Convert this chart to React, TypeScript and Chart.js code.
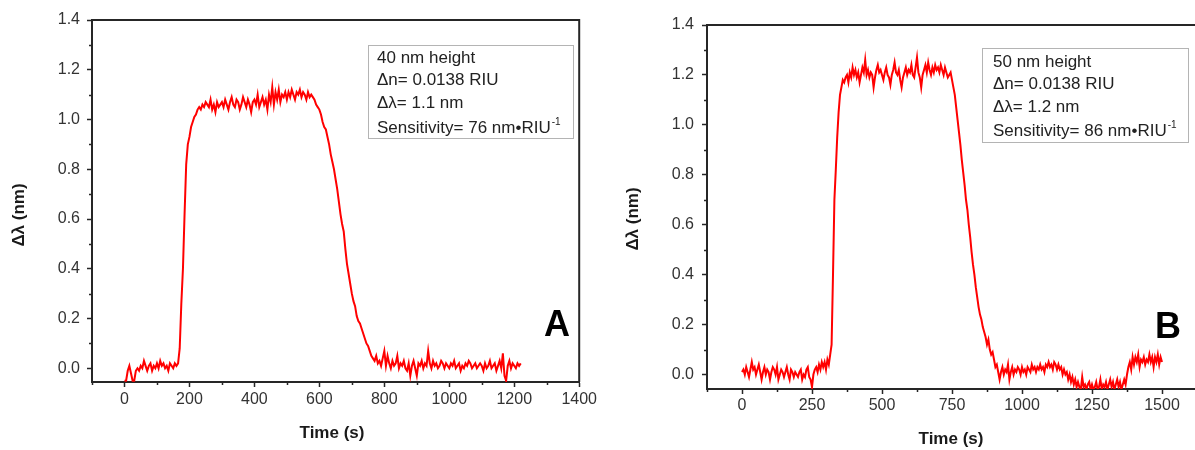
import React, { useEffect, useRef } from "react";
import { Chart, registerables } from "chart.js";

Chart.register(...registerables);

// Sensorgram sampling interval (seconds between readings)
const SAMPLE_STEP_S = 5;

// Wavelength shift (nm), 40 nm high structures, one reading every SAMPLE_STEP_S from t = 0
const SHIFT_40NM = [
  -0.05, -0.05, -0.01, 0.01, -0.02, -0.05, -0.05, -0.01, 0.0, -0.01, 0.01, 0.0, 0.03, 0.01, -0.01, 0.01, 0.02, -0.01, 0.01, 0.0,
  0.02, 0.0, 0.03, 0.01, 0.02, 0.0, 0.01, -0.01, 0.02, 0.01, 0.0, 0.02, 0.01, 0.02, 0.08, 0.26, 0.4, 0.62, 0.82, 0.9,
  0.93, 0.97, 0.99, 1.01, 1.02, 1.04, 1.05, 1.04, 1.06, 1.05, 1.07, 1.06, 1.05, 1.08, 1.04, 1.06, 1.03, 1.07, 1.05, 1.06,
  1.07, 1.05, 1.08, 1.06, 1.04, 1.07, 1.09, 1.06, 1.05, 1.08, 1.07, 1.04, 1.06, 1.09, 1.07, 1.05, 1.08, 1.06, 1.03, 1.07,
  1.08, 1.06, 1.1, 1.05, 1.07, 1.09, 1.06, 1.08, 1.04, 1.1, 1.07, 1.13, 1.06, 1.11, 1.08, 1.12, 1.07, 1.1, 1.09, 1.11,
  1.08, 1.11, 1.09, 1.12, 1.1, 1.08, 1.11, 1.1, 1.12, 1.09, 1.11, 1.1, 1.08, 1.11, 1.09, 1.1, 1.09, 1.08, 1.06, 1.05,
  1.04, 1.02, 0.99, 0.97, 0.96, 0.93, 0.9, 0.86, 0.83, 0.8, 0.76, 0.72, 0.67, 0.62, 0.58, 0.55, 0.48, 0.42, 0.38, 0.34,
  0.3, 0.27, 0.25, 0.21, 0.19, 0.18, 0.16, 0.14, 0.12, 0.1, 0.09, 0.07, 0.05, 0.04, 0.03, 0.05, 0.02, 0.03, 0.01, 0.04,
  0.07, 0.01, 0.05, 0.02, 0.0, 0.03, 0.01, 0.02, 0.05, 0.0, 0.02, 0.01, 0.03, 0.0, -0.01, 0.02, -0.03, 0.01, 0.03, 0.0,
  -0.03, 0.02, 0.01, 0.03, 0.0, 0.02, 0.01, 0.07, 0.02, 0.0, 0.03, 0.01, 0.02, 0.0, 0.01, 0.03, 0.02, 0.0, 0.02, 0.01,
  0.0, 0.02, 0.01, 0.03, 0.0, 0.01, 0.02, -0.01, 0.01, 0.0, 0.02, 0.01, 0.03, 0.02, 0.0, 0.01, 0.02, 0.0, 0.01, 0.02,
  0.01, -0.01, 0.02, 0.0, 0.01, 0.03, 0.0, 0.01, 0.02, -0.01, 0.01, 0.03, 0.0, 0.06, -0.03, -0.05, 0.01, 0.03, 0.0, 0.02,
  0.01, 0.0, 0.02, 0.01, 0.02,
];

// Wavelength shift (nm), 50 nm high structures, one reading every SAMPLE_STEP_S from t = 0
const SHIFT_50NM = [
  0.01, 0.02, 0.0, 0.03, 0.01, -0.01, 0.02, 0.05, 0.02, 0.03, 0.0, 0.02, 0.04, 0.01, -0.02, 0.01, 0.03, 0.0, 0.02, 0.01,
  -0.02, 0.01, 0.03, 0.02, 0.0, 0.03, -0.02, 0.0, 0.02, 0.01, -0.01, 0.01, 0.03, 0.0, -0.02, 0.02, 0.01, -0.01, 0.01, 0.0,
  -0.01, 0.01, 0.02, -0.02, 0.0, -0.01, 0.02, 0.03, -0.01, -0.02, -0.05, 0.0, 0.02, 0.03, 0.01, 0.04, 0.02, 0.05, 0.03, 0.05,
  0.02, 0.06, 0.04, 0.08, 0.12, 0.4, 0.7, 0.82, 0.95, 1.05, 1.12, 1.15, 1.18, 1.17, 1.19, 1.2, 1.17, 1.21, 1.19, 1.23,
  1.2, 1.22, 1.19, 1.21, 1.17, 1.2, 1.23, 1.21, 1.26, 1.2, 1.22, 1.19, 1.21, 1.2, 1.15, 1.19, 1.22, 1.24, 1.21, 1.22,
  1.2, 1.18, 1.21, 1.23, 1.2, 1.19, 1.16, 1.2, 1.22, 1.25, 1.21, 1.2, 1.22, 1.18, 1.15, 1.19, 1.21, 1.23, 1.2, 1.22,
  1.21, 1.24, 1.2, 1.19, 1.23, 1.27, 1.21, 1.19, 1.15, 1.2, 1.22, 1.24, 1.21, 1.25, 1.22, 1.2, 1.23, 1.21, 1.24, 1.22,
  1.23, 1.21, 1.24, 1.22, 1.2, 1.23, 1.21, 1.19, 1.2, 1.21, 1.18, 1.15, 1.12, 1.07, 1.02, 0.97, 0.92, 0.86, 0.81, 0.76,
  0.7, 0.66, 0.6, 0.55, 0.49, 0.44, 0.4, 0.35, 0.31, 0.27, 0.24, 0.22, 0.19, 0.17, 0.15, 0.12, 0.14, 0.1, 0.08, 0.09,
  0.06, 0.03, 0.04, 0.01, -0.02, 0.01, 0.03, 0.0, 0.02, 0.01, 0.04, -0.02, 0.01, 0.03, 0.0, 0.02, 0.01, 0.03, 0.02, 0.0,
  0.03, 0.01, 0.02, 0.0, 0.03, 0.02, 0.01, 0.04, 0.02, 0.03, 0.01, 0.03, 0.02, 0.04, 0.02, 0.03, 0.01, 0.04, 0.03, 0.05,
  0.03, 0.04, 0.02, 0.05, 0.04, 0.02, 0.04, 0.02, 0.03, 0.0, 0.02, 0.0, 0.01, -0.02, 0.0, -0.03, -0.01, -0.04, -0.02, -0.05,
  -0.03, -0.05, -0.06, -0.01, -0.05, -0.04, -0.06, -0.04, -0.03, -0.06, -0.04, -0.06, -0.05, -0.03, -0.06, -0.05, -0.02, -0.06, -0.04, -0.05,
  -0.03, -0.06, -0.04, -0.02, -0.05, -0.03, -0.06, -0.04, -0.02, -0.05, -0.03, -0.06, -0.04, -0.02, -0.04, 0.0, 0.03, 0.05, 0.02, 0.07,
  0.04, 0.07, 0.05, 0.08, 0.03, 0.06, 0.05, 0.07, 0.04, 0.06, 0.05, 0.08, 0.05, 0.07, 0.03, 0.07, 0.05, 0.08, 0.04, 0.07, 0.05,
];

const Y_TICKS = [0, 0.2, 0.4, 0.6, 0.8, 1.0, 1.2, 1.4];
const Y_MINOR = [0.1, 0.3, 0.5, 0.7, 0.9, 1.1, 1.3];
const X_TICKS_40 = [0, 200, 400, 600, 800, 1000, 1200, 1400];
const X_MINOR_40 = [-100, 100, 300, 500, 700, 900, 1100, 1300];
const X_TICKS_50 = [0, 250, 500, 750, 1000, 1250, 1500];
const X_MINOR_50 = [-125, 125, 375, 625, 875, 1125, 1375, 1625];

const INFO_40 = ["40 nm height", "\u0394n= 0.0138 RIU", "\u0394\u03bb= 1.1 nm", "Sensitivity= 76 nm\u2022RIU"];
const INFO_50 = ["50 nm height", "\u0394n= 0.0138 RIU", "\u0394\u03bb= 1.2 nm", "Sensitivity= 86 nm\u2022RIU"];

const X_TITLE = "Time (s)";
const Y_TITLE = "\u0394\u03bb (nm)";

const FONT = "'Liberation Sans', Arial, sans-serif";
const AXIS_COLOR = "#262626";
const TEXT_COLOR = "#333333";

type PanelSpec = {
  left: number;
  width: number;
  values: number[];
  xMin: number;
  xMax: number;
  yMin: number;
  xTicks: number[];
  xMinor: number[];
  info: string[];
  letter: string;
  padding: { top: number; right: number; bottom: number; left: number };
  yAxisWidth: number;
  xAxisHeight: number;
  xLabelPad: number;
  yLabelPad: number;
  xTitlePos: [number, number];
  yTitlePos: [number, number];
  letterPos: [number, number];
  box: { x: number; y: number; w: number; h: number; textX: number; rows: number[] };
};

const PANELS: PanelSpec[] = [
  {
    left: 0,
    width: 600,
    values: SHIFT_40NM,
    xMin: -100,
    xMax: 1400,
    yMin: -0.055,
    xTicks: X_TICKS_40,
    xMinor: X_MINOR_40,
    info: INFO_40,
    letter: "A",
    padding: { top: 20, right: 16, bottom: 0, left: 0 },
    yAxisWidth: 92,
    xAxisHeight: 68,
    xLabelPad: 3,
    yLabelPad: 7,
    xTitlePos: [332, 433],
    yTitlePos: [19, 215],
    letterPos: [557, 326],
    box: { x: 368.5, y: 45.5, w: 205, h: 93, textX: 377, rows: [58, 80, 103, 128] },
  },
  {
    left: 600,
    width: 660,
    values: SHIFT_50NM,
    xMin: -125,
    xMax: 1625,
    yMin: -0.058,
    xTicks: X_TICKS_50,
    xMinor: X_MINOR_50,
    info: INFO_50,
    letter: "B",
    padding: { top: 25, right: 63, bottom: 0, left: 0 },
    yAxisWidth: 107,
    xAxisHeight: 61,
    xLabelPad: 2,
    yLabelPad: 8,
    xTitlePos: [351, 439],
    yTitlePos: [33, 219],
    letterPos: [568, 328],
    box: { x: 382.5, y: 48.5, w: 206, h: 94, textX: 393, rows: [62, 84, 107, 131] },
  },
];

function makeDecorPlugin(spec: PanelSpec) {
  return {
    id: "panelDecor",
    afterDraw(chart: any) {
      const ctx: CanvasRenderingContext2D = chart.ctx;
      const { left, right, top, bottom } = chart.chartArea;
      const xs = chart.scales.x;
      const ys = chart.scales.y;
      ctx.save();

      // frame: top and right edges
      ctx.strokeStyle = AXIS_COLOR;
      ctx.lineWidth = 2;
      ctx.beginPath();
      ctx.moveTo(left, top);
      ctx.lineTo(right, top);
      ctx.lineTo(right, bottom);
      ctx.stroke();

      // minor ticks, pointing outward
      ctx.lineWidth = 1.5;
      ctx.beginPath();
      for (const v of spec.xMinor) {
        const px = Math.round(xs.getPixelForValue(v)) + 0.5;
        ctx.moveTo(px, bottom);
        ctx.lineTo(px, bottom + 3);
      }
      for (const v of Y_MINOR) {
        const py = Math.round(ys.getPixelForValue(v)) + 0.5;
        ctx.moveTo(left, py);
        ctx.lineTo(left - 3, py);
      }
      ctx.stroke();

      // axis titles
      ctx.fillStyle = "#1a1a1a";
      ctx.font = `bold 17px ${FONT}`;
      ctx.textAlign = "center";
      ctx.textBaseline = "middle";
      ctx.fillText(X_TITLE, spec.xTitlePos[0], spec.xTitlePos[1]);
      ctx.save();
      ctx.translate(spec.yTitlePos[0], spec.yTitlePos[1]);
      ctx.rotate(-Math.PI / 2);
      ctx.fillText(Y_TITLE, 0, 0);
      ctx.restore();

      // panel letter
      ctx.fillStyle = "#000";
      ctx.font = `bold 36px ${FONT}`;
      ctx.fillText(spec.letter, spec.letterPos[0], spec.letterPos[1]);

      // info box
      const b = spec.box;
      ctx.fillStyle = "#fff";
      ctx.fillRect(b.x, b.y, b.w, b.h);
      ctx.strokeStyle = "#b4b4b4";
      ctx.lineWidth = 1;
      ctx.strokeRect(b.x, b.y, b.w, b.h);
      ctx.fillStyle = "#222";
      ctx.font = `17px ${FONT}`;
      ctx.textAlign = "left";
      ctx.textBaseline = "middle";
      spec.info.forEach((line, i) => {
        ctx.fillText(line, b.textX, b.rows[i]);
        if (i === spec.info.length - 1) {
          const w = ctx.measureText(line).width;
          ctx.font = `10px ${FONT}`;
          ctx.fillText("-1", b.textX + w + 1, b.rows[i] - 6);
          ctx.font = `17px ${FONT}`;
        }
      });

      ctx.restore();
    },
  };
}

function Panel({ spec }: { spec: PanelSpec }) {
  const ref = useRef<HTMLCanvasElement>(null);

  useEffect(() => {
    const canvas = ref.current;
    if (!canvas) return;
    const points = spec.values.map((y, i) => ({ x: i * SAMPLE_STEP_S, y }));
    const chart = new Chart(canvas, {
      type: "line",
      data: {
        datasets: [
          {
            data: points,
            borderColor: "#ff0000",
            borderWidth: 2,
            pointRadius: 0,
            tension: 0,
            fill: false,
            clip: 0,
          },
        ],
      },
      options: {
        responsive: false,
        animation: false,
        layout: { padding: spec.padding },
        plugins: { legend: { display: false }, tooltip: { enabled: false } },
        scales: {
          x: {
            type: "linear",
            min: spec.xMin,
            max: spec.xMax,
            afterBuildTicks: (s: any) => {
              s.ticks = spec.xTicks.map((value) => ({ value }));
            },
            afterFit: (s: any) => {
              s.height = spec.xAxisHeight;
            },
            grid: {
              drawOnChartArea: false,
              drawTicks: true,
              tickLength: 5,
              tickColor: AXIS_COLOR,
              tickWidth: 1.5,
            },
            border: { display: true, color: AXIS_COLOR, width: 2 },
            ticks: {
              autoSkip: false,
              maxRotation: 0,
              padding: spec.xLabelPad,
              color: TEXT_COLOR,
              font: { family: FONT, size: 16 },
              callback: (v: any) => String(v),
            },
          },
          y: {
            type: "linear",
            min: spec.yMin,
            max: 1.4,
            afterBuildTicks: (s: any) => {
              s.ticks = Y_TICKS.map((value) => ({ value }));
            },
            afterFit: (s: any) => {
              s.width = spec.yAxisWidth;
            },
            grid: {
              drawOnChartArea: false,
              drawTicks: true,
              tickLength: 5,
              tickColor: AXIS_COLOR,
              tickWidth: 1.5,
            },
            border: { display: true, color: AXIS_COLOR, width: 2 },
            ticks: {
              padding: spec.yLabelPad,
              color: TEXT_COLOR,
              font: { family: FONT, size: 16 },
              callback: (v: any) => Number(v).toFixed(1),
            },
          },
        },
      },
      plugins: [makeDecorPlugin(spec)],
    });
    return () => chart.destroy();
  }, [spec]);

  return (
    <canvas
      ref={ref}
      width={spec.width}
      height={450}
      style={{ position: "absolute", left: spec.left, top: 0, width: spec.width, height: 450 }}
    />
  );
}

export default function App() {
  return (
    <div
      style={{
        position: "absolute",
        left: 0,
        top: 0,
        width: 1195,
        height: 450,
        overflow: "hidden",
        background: "#ffffff",
      }}
    >
      {PANELS.map((p) => (
        <Panel key={p.letter} spec={p} />
      ))}
    </div>
  );
}
